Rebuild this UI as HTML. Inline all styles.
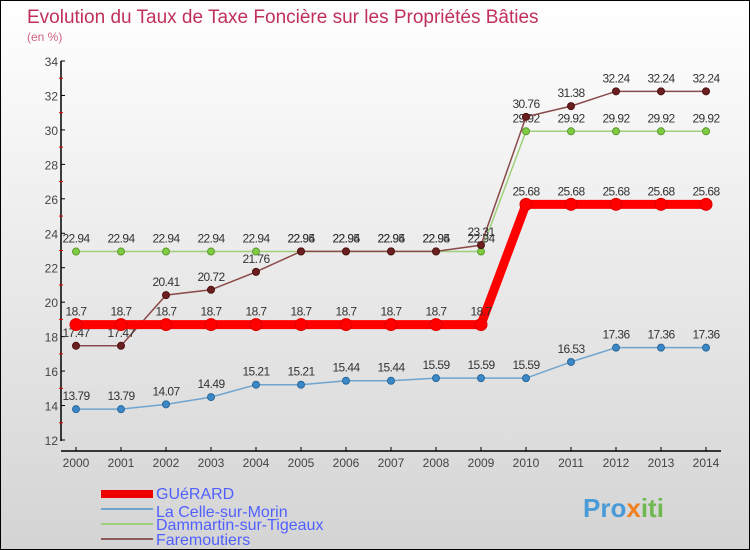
<!DOCTYPE html>
<html><head><meta charset="utf-8"><style>
body{margin:0}
#c{width:748px;height:548px;border:1px solid #000;background:linear-gradient(#fff,#d4d4d4);position:relative;overflow:hidden;font-family:"Liberation Sans",sans-serif}
</style></head><body>
<div id="c">
<svg id="s" width="748" height="548" xmlns="http://www.w3.org/2000/svg">
<text x="26" y="22" font-size="19" fill="#c0305a">Evolution du Taux de Taxe Foncière sur les Propriétés Bâties</text>
<text x="26" y="40" font-size="12" fill="#d06080">(en %)</text>
<g id="axes"></g><g id="series"></g>
<g>
<rect x="100" y="489" width="52" height="8" fill="#e00"/>
<text x="155" y="498" font-size="16" fill="#5060ff">GUéRARD</text>
<rect x="100" y="507" width="52" height="2" fill="#6fa4cf"/>
<text x="155" y="516" font-size="16" fill="#5060ff">La Celle-sur-Morin</text>
<rect x="100" y="522" width="52" height="2" fill="#9ed07c"/>
<text x="155" y="529" font-size="16" fill="#5060ff">Dammartin-sur-Tigeaux</text>
<rect x="100" y="537" width="52" height="2" fill="#8a5a5a"/>
<text x="155" y="544" font-size="16" fill="#5060ff">Faremoutiers</text>
</g>
<text x="582" y="516" font-size="26" font-weight="bold" fill="#4a9ad8">Pro<tspan fill="#f08020">x</tspan><tspan fill="#70b850">iti</tspan></text>
</svg></div>
<script>
const years=[2000,2001,2002,2003,2004,2005,2006,2007,2008,2009,2010,2011,2012,2013,2014];
const yTicks=[12,14,16,18,20,22,24,26,28,30,32,34];
const guerard=[18.7,18.7,18.7,18.7,18.7,18.7,18.7,18.7,18.7,18.7,25.68,25.68,25.68,25.68,25.68];
const laCelle=[13.79,13.79,14.07,14.49,15.21,15.21,15.44,15.44,15.59,15.59,15.59,16.53,17.36,17.36,17.36];
const dammartin=[22.94,22.94,22.94,22.94,22.94,22.94,22.94,22.94,22.94,22.94,29.92,29.92,29.92,29.92,29.92];
const faremoutiers=[17.47,17.47,20.41,20.72,21.76,22.95,22.95,22.95,22.95,23.31,30.76,31.38,32.24,32.24,32.24];
const NS="http://www.w3.org/2000/svg";
const X=i=>75+i*45, Y=v=>439-(v-12)*(379/22);
function mk(t,a,p){const e=document.createElementNS(NS,t);for(const k in a)e.setAttribute(k,a[k]);p.appendChild(e);return e;}
const ax=document.getElementById('axes'),sg=document.getElementById('series');
let l=mk('line',{x1:60,y1:60,x2:60,y2:440,stroke:'#000','stroke-width':1.5},ax);

l=mk('line',{x1:60,y1:450,x2:720,y2:450,stroke:'#000','stroke-width':1.5},ax);

yTicks.forEach(v=>{
 let t=mk('line',{x1:60,y1:Y(v),x2:64,y2:Y(v),stroke:'#000'},ax);
 
 if(v<34){let m=mk('line',{x1:58,y1:Y(v+1),x2:62,y2:Y(v+1),stroke:'#e00'},ax);
 }
 let tx=mk('text',{x:57,y:Y(v)+5,'font-size':12,'text-anchor':'end',fill:'#444'},ax);tx.textContent=v;
 
});
years.forEach((y,i)=>{
 let t=mk('line',{x1:X(i),y1:446,x2:X(i),y2:450,stroke:'#000'},ax);
 
 let tx=mk('text',{x:X(i),y:466,'font-size':12,'text-anchor':'middle',fill:'#444'},ax);tx.textContent=y;
 
});
function series(d,name,col,w,r,dot,dstroke){
 const g=mk('g',{},sg);
 let p=mk('polyline',{points:d.map((v,i)=>X(i)+','+Y(v)).join(' '),fill:'none',stroke:col,'stroke-width':w},g);
 
 d.forEach((v,i)=>{
  let c=mk('circle',{cx:X(i),cy:Y(v),r:r,fill:dot,stroke:dstroke,'stroke-width':1},g);
  
  let t=mk('text',{x:X(i),y:Y(v)-9,'font-size':12,'text-anchor':'middle',fill:'#333','letter-spacing':'-0.6'},g);t.textContent=v;
  
 });
}
series(laCelle,'la-celle','#6fa4cf',1.5,3.5,'#3a88c8','#2a6898');
series(dammartin,'dammartin','#9ed07c',1.5,3.5,'#80cc40','#5a9a30');
series(faremoutiers,'faremoutiers','#8a4a4a',1.5,3.5,'#6a2020','#501010');
series(guerard,'guerard','#f00',9,6,'#f00','#d00');
</script>
</body></html>
